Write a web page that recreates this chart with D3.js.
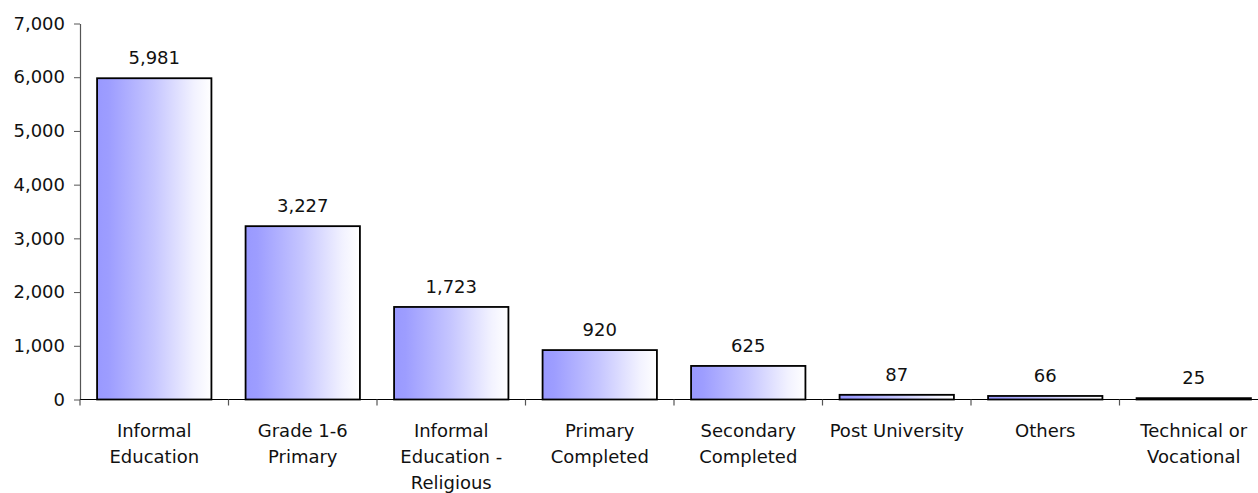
<!DOCTYPE html>
<html>
<head>
<meta charset="utf-8">
<script src="https://cdn.jsdelivr.net/npm/d3@7"></script>
<style>
  html, body { margin: 0; padding: 0; background: #fff; }
  svg { display: block; }
  text { font-family: "DejaVu Sans", Verdana, sans-serif; fill: #111; }
</style>
</head>
<body>
<svg id="chart" width="1258" height="493"></svg>
<script>
const categories = [
  "Informal\nEducation",
  "Grade 1-6\nPrimary",
  "Informal\nEducation -\nReligious",
  "Primary\nCompleted",
  "Secondary\nCompleted",
  "Post University",
  "Others",
  "Technical or\nVocational"
];
const values = [5981, 3227, 1723, 920, 625, 87, 66, 25];
const yTicks = [0, 1000, 2000, 3000, 4000, 5000, 6000, 7000];

const svg = d3.select("#chart");
const fontSize = 18;

const x = d3.scaleBand()
  .domain(categories)
  .range([80, 1268])
  .paddingInner(0.23)
  .paddingOuter(0.115);

const y = d3.scaleLinear()
  .domain([0, 7000])
  .range([399.5, 23.5]);

// gradient
const defs = svg.append("defs");
const grad = defs.append("linearGradient")
  .attr("id", "barGrad")
  .attr("x1", "0%").attr("x2", "100%").attr("y1", "0%").attr("y2", "0%");
grad.append("stop").attr("offset", "0%").attr("stop-color", "#9999ff");
grad.append("stop").attr("offset", "10%").attr("stop-color", "#9d9dff");
grad.append("stop").attr("offset", "50%").attr("stop-color", "#c6c6ff");
grad.append("stop").attr("offset", "85%").attr("stop-color", "#f2f2ff");
grad.append("stop").attr("offset", "100%").attr("stop-color", "#ffffff");

// y axis
const yAxis = d3.axisLeft(y)
  .tickValues(yTicks)
  .tickFormat(d3.format(","))
  .tickSizeInner(6)
  .tickSizeOuter(0)
  .tickPadding(9);

const gy = svg.append("g")
  .attr("transform", "translate(80,0)")
  .call(yAxis);
gy.select(".domain").attr("stroke", "#555").attr("stroke-width", 1.2);
gy.selectAll(".tick line").attr("stroke", "#555");
gy.selectAll(".tick text")
  .style("font-family", '"DejaVu Sans", Verdana, sans-serif')
  .style("font-size", fontSize + "px")
  .attr("fill", "#111");

// bars
svg.append("g").selectAll("rect")
  .data(values)
  .join("rect")
  .attr("x", (d, i) => x(categories[i]))
  .attr("width", x.bandwidth())
  .attr("y", d => y(d))
  .attr("height", d => y(0) - y(d))
  .attr("fill", "url(#barGrad)")
  .attr("stroke", "#000")
  .attr("stroke-width", 1.8);

// x axis line and category separators
const step = x.step();
const half = step * x.paddingInner() / 2;
const bounds = categories.map(c => x(c) - half).concat([x(categories[categories.length - 1]) + x.bandwidth() + half]);

svg.append("line")
  .attr("x1", 80).attr("x2", 1268)
  .attr("y1", y(0)).attr("y2", y(0))
  .attr("stroke", "#000").attr("stroke-width", 1.2);

svg.append("g").selectAll("line")
  .data(bounds)
  .join("line")
  .attr("x1", d => d).attr("x2", d => d)
  .attr("y1", y(0)).attr("y2", y(0) + 6)
  .attr("stroke", "#555").attr("stroke-width", 1.2);

// value labels
svg.append("g").selectAll("text")
  .data(values)
  .join("text")
  .attr("x", (d, i) => x(categories[i]) + x.bandwidth() / 2)
  .attr("y", d => y(d) - 14)
  .attr("text-anchor", "middle")
  .style("font-size", fontSize + "px")
  .text(d => d3.format(",")(d));

// category labels
const cl = svg.append("g").selectAll("text")
  .data(categories)
  .join("text")
  .attr("x", d => x(d) + x.bandwidth() / 2)
  .attr("y", y(0) + 37)
  .attr("text-anchor", "middle")
  .style("font-size", fontSize + "px");
cl.each(function(d) {
  const t = d3.select(this);
  d.split("\n").forEach((line, i) => {
    t.append("tspan")
      .attr("x", x(d) + x.bandwidth() / 2)
      .attr("dy", i === 0 ? 0 : 26)
      .text(line);
  });
});
</script>
</body>
</html>
